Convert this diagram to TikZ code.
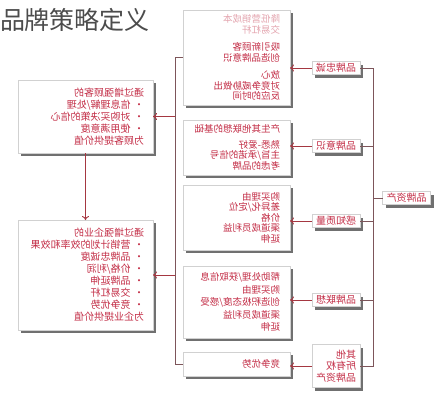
\documentclass[tikz,border=0pt]{standalone}
\usepackage{fontspec}
\setmainfont{Noto Sans CJK SC}
\usepackage{tikz}
\usetikzlibrary{arrows.meta,shadows}
\definecolor{txtred}{RGB}{195,45,70}
\definecolor{fadered}{RGB}{228,165,175}
\definecolor{linecol}{RGB}{125,85,90}
\definecolor{arrowcol}{RGB}{165,55,65}

\begin{document}
\begin{tikzpicture}[x=1pt,y=-1pt,
	every node/.style={inner sep=0pt,outer sep=0pt},
	box/.style={draw=black!18,line width=.4pt,fill=white,text=txtred,align=left,
		drop shadow={shadow xshift=3pt,shadow yshift=-3pt,opacity=.75,fill=black!75}},
	asset/.style={box,font=\fontsize{10}{11.5}\selectfont,text width=40pt,inner xsep=4pt,inner ysep=1.5pt,minimum height=13pt},
	reason/.style={box,font=\fontsize{9.5}{10.5}\selectfont,text width=87pt,inner xsep=10pt},
	gain/.style={box,font=\fontsize{10}{12}\selectfont,text width=117pt,inner xsep=9pt},
	link/.style={draw=linecol,line width=.9pt},
	push/.style={draw=arrowcol,line width=.9pt,-{To[length=4pt,width=7pt]}}]
	\useasboundingbox (0,0) rectangle (445,400);
	\node[anchor=west,font=\fontsize{25}{25}\selectfont,text=black!70] (title) at (0,20) {品牌策略定义};

	\begin{scope}[xshift=445pt,xscale=-1,transform shape]
	\node[asset] (equity) at (38.5,198) {品牌资产};
	\node[asset] (loyal) at (109,68) {品牌忠诚};
	\node[asset] (aware) at (109,146) {品牌意识};
	\node[asset] (quality) at (109,221) {感知质量};
	\node[asset] (assoc) at (109,300) {品牌联想};
	\node[asset,minimum height=43pt] (other) at (109,366) {其他\\所有权\\品牌资产};

	\node[reason,minimum height=95pt] (r1) at (208.5,57.5) {{\color{fadered}降低营销成本}\\{\color{fadered}交易杠杆}\\[7pt]吸引新顾客\\创造品牌意识\\[7pt]放心\\对竞争威胁做出\\反应的时间};
	\node[reason,minimum height=55pt] (r2) at (208.5,147.5) {产生其他联想的基础\\[5pt]熟悉-爱好\\主旨/承诺的信号\\考虑的品牌};
	\node[reason,minimum height=65pt] (r3) at (208.5,217.5) {购买理由\\差异化/定位\\价格\\渠道成员利益\\延伸};
	\node[reason,minimum height=72pt,font=\fontsize{9.5}{12.5}\selectfont] (r4) at (208.5,302) {帮助处理/获取信息\\购买理由\\创造积极态度/感受\\渠道成员利益\\延伸};
	\node[reason,minimum height=24pt] (r5) at (208.5,364) {竞争优势};

	\node[gain,minimum height=73pt] (cust) at (359.5,116.5) {通过增强顾客的\\• 信息理解/处理\\• 对购买决策的信心\\• 使用满意度\\为顾客提供价值};
	\node[gain,minimum height=110pt] (firm) at (359.5,275) {通过增强企业的\\• 营销计划的效率和效果\\• 品牌忠诚度\\• 价格/利润\\• 品牌延伸\\• 交易杠杆\\• 竞争优势\\为企业提供价值};

	\draw[link] (loyal.west) -- ++(-13,0) coordinate (trunk) |- (other.west);
	\draw[link] (aware.west) -- (aware.west -| trunk);
	\draw[link] (quality.west) -- (quality.west -| trunk);
	\draw[link] (assoc.west) -- (assoc.west -| trunk);
	\draw[link] (equity.east) -- (equity.east -| trunk);

	\draw[push] (loyal.east) -- (loyal.east -| r1.west);
	\draw[push] (aware.east) -- (aware.east -| r2.west);
	\draw[push] (quality.east) -- (quality.east -| r3.west);
	\draw[push] (assoc.east) -- (assoc.east -| r4.west);
	\draw[push] (other.east) -- (other.east -| r5.west);

	\draw[link] (r1.east) -- ++(8,0) coordinate (spine) |- (r5.east);
	\draw[push] (spine |- cust.west) -- (cust.west);
	\draw[push] (spine |- firm.west) -- (firm.west);
	\draw[push] (cust.south) -- (firm.north);
	\end{scope}
\end{tikzpicture}
\end{document}
